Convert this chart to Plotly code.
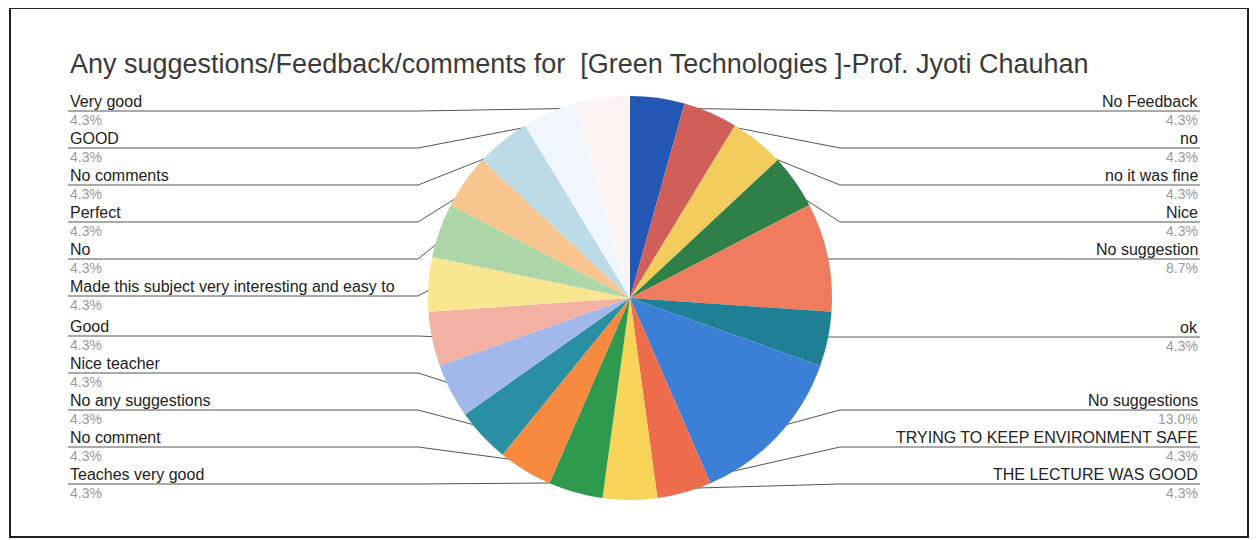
import numpy as np
import plotly.graph_objects as go

title = "Any suggestions/Feedback/comments for  [Green Technologies ]-Prof. Jyoti Chauhan"
labels = ["No Feedback", "no", "no it was fine", "Nice", "No suggestion", "ok",
          "No suggestions", "TRYING TO KEEP ENVIRONMENT SAFE", "THE LECTURE WAS GOOD",
          "Teaches very good", "No comment", "No any suggestions", "Nice teacher", "Good",
          "Made this subject very interesting and easy to", "No", "Perfect", "No comments",
          "GOOD", "Very good"]
counts = [1, 1, 1, 1, 2, 1, 3, 1, 1, 1, 1, 1, 1, 1, 1, 1, 1, 1, 1, 1]

colors = ["#2456b4", "#cf5f58", "#f2cc5c", "#2f7f48", "#ef7c5e", "#1e7f95",
          "#3c7fd6", "#ec6c4c", "#f7d358", "#2f9a4e", "#f78a3f", "#2b8fa3",
          "#a3b8ea", "#f2b1a2", "#f9e690", "#acd5a8", "#f9c58e", "#bcdbe6",
          "#f1f5fc", "#fcf4f2"]

# page size and pie placement, in page pixels (the html body adds an 8px margin)
W, H = 1257, 540
OFF = 8
cx, cy, r = 630, 298, 202
LEFT_X, RIGHT_X = 68, 1200
GAP, TOP, BOTTOM = 37, 111, 484

vals = np.array(counts, dtype=float)
share = vals / vals.sum()
mid = (np.cumsum(vals) - vals / 2) / vals.sum() * 2 * np.pi
ax = cx + 0.95 * r * np.sin(mid)
ay = cy - 0.95 * r * np.cos(mid)


def spread(ys):
    ys = list(ys)
    for i in range(len(ys)):
        lo = TOP if i == 0 else ys[i - 1] + GAP
        ys[i] = max(ys[i], lo)
    for i in range(len(ys) - 1, -1, -1):
        hi = BOTTOM if i == len(ys) - 1 else ys[i + 1] - GAP
        ys[i] = min(ys[i], hi)
    return ys


right = [i for i in range(len(vals)) if mid[i] <= np.pi + 1e-6]
left = [i for i in range(len(vals)) if mid[i] > np.pi + 1e-6][::-1]
ly = {}
for side in (right, left):
    for i, y in zip(side, spread([ay[i] for i in side])):
        ly[i] = y

fig = go.Figure()
fig.add_trace(go.Pie(
    labels=labels, values=counts, sort=False, direction="clockwise", rotation=0,
    marker=dict(colors=colors, line=dict(width=0)), textinfo="none",
    hoverinfo="label+percent", showlegend=False,
    domain=dict(x=[(cx - r - OFF) / W, (cx + r - OFF) / W],
                y=[1 - (cy + r - OFF) / H, 1 - (cy - r - OFF) / H]),
))

lx, lyy = [], []
annos = []
font = "Liberation Sans, Arial, sans-serif"
for i in range(len(vals)):
    y = ly[i]
    if i in right:
        elbow = cx + r + 8
        end, anchor = RIGHT_X, "right"
    else:
        elbow = cx - r - 10
        end, anchor = LEFT_X, "left"
    lx += [ax[i], elbow, end, None]
    lyy += [ay[i], y, y, None]
    annos.append(dict(x=end, y=y, text=labels[i], xanchor=anchor, yanchor="bottom",
                      showarrow=False, yshift=-1, font=dict(size=16, color="#222222", family=font)))
    annos.append(dict(x=end, y=y, text=f"{share[i] * 100:.1f}%", xanchor=anchor, yanchor="top",
                      showarrow=False, yshift=1, font=dict(size=14, color="#9a9a9a", family=font)))

fig.add_trace(go.Scatter(x=lx, y=lyy, mode="lines", line=dict(color="#555555", width=1),
                         hoverinfo="skip", showlegend=False))
fig.add_trace(go.Scatter(x=ax, y=ay, mode="markers", marker=dict(color="#555555", size=4),
                         hoverinfo="skip", showlegend=False, cliponaxis=False))

annos.append(dict(x=LEFT_X, y=64, text=title, xanchor="left", yanchor="middle", showarrow=False,
                  font=dict(size=27, color="#3a3a3a", family=font)))

fig.update_layout(
    width=W, height=H, margin=dict(l=0, r=0, t=0, b=0),
    paper_bgcolor="white", plot_bgcolor="rgba(0,0,0,0)",
    xaxis=dict(range=[OFF, W + OFF], visible=False, fixedrange=True),
    yaxis=dict(range=[H + OFF, OFF], visible=False, fixedrange=True),
    annotations=annos,
    shapes=[dict(type="rect", x0=10, y0=8, x1=1248, y1=537, xref="x", yref="y",
                 line=dict(color="#222222", width=2))],
)

fig.write_html("out.html")
